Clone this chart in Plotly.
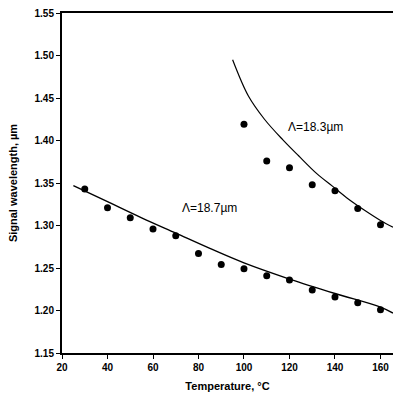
import plotly.graph_objects as go

# Measured data (Λ = 18.7 µm)
temp_a = [30, 40, 50, 60, 70, 80, 90, 100, 110, 120, 130, 140, 150, 160]
wl_a = [1.343, 1.321, 1.309, 1.296, 1.288, 1.267, 1.254, 1.249, 1.241, 1.236, 1.224, 1.216, 1.209, 1.201]

# Measured data (Λ = 18.3 µm)
temp_b = [100, 110, 120, 130, 140, 150, 160]
wl_b = [1.419, 1.376, 1.368, 1.348, 1.341, 1.320, 1.301]

# Theory curves
curve_a_x = [25, 40, 55, 70, 85, 100, 120, 140, 160, 165.5]
curve_a_y = [1.347, 1.328, 1.309, 1.291, 1.273, 1.256, 1.237, 1.220, 1.204, 1.197]
curve_b_x = [95, 102, 109, 117, 124, 132, 139, 146, 153, 160, 165.5]
curve_b_y = [1.495, 1.452, 1.425, 1.401, 1.382, 1.361, 1.346, 1.331, 1.318, 1.306, 1.298]

x_ticks = [20, 40, 60, 80, 100, 120, 140, 160]
y_ticks = [1.15, 1.20, 1.25, 1.30, 1.35, 1.40, 1.45, 1.50, 1.55]

font_fam = "Liberation Sans, Arial, sans-serif"

fig = go.Figure()
fig.add_trace(go.Scatter(x=curve_a_x, y=curve_a_y, mode="lines",
                         line=dict(color="black", width=1.4, shape="spline"), showlegend=False))
fig.add_trace(go.Scatter(x=curve_b_x, y=curve_b_y, mode="lines",
                         line=dict(color="black", width=1.2, shape="spline"), showlegend=False))
fig.add_trace(go.Scatter(x=temp_a, y=wl_a, mode="markers", cliponaxis=False,
                         marker=dict(color="black", size=7), showlegend=False))
fig.add_trace(go.Scatter(x=temp_b, y=wl_b, mode="markers", cliponaxis=False,
                         marker=dict(color="black", size=7), showlegend=False))

fig.add_annotation(x=84.7, y=1.3206, text="Λ=18.7µm", showarrow=False,
                   font=dict(family=font_fam, size=12, color="black"))
fig.add_annotation(x=131.6, y=1.4155, text="Λ=18.3µm", showarrow=False,
                   font=dict(family=font_fam, size=12, color="black"))

fig.update_layout(
    width=393, height=400,
    margin=dict(l=62, r=0, t=13, b=47),
    paper_bgcolor="white", plot_bgcolor="white",
    font=dict(family=font_fam, color="black"),
    xaxis=dict(range=[20, 165.5], tickvals=x_ticks, ticktext=[f"<b>{v}</b>" for v in x_ticks],
               automargin=False,
               showgrid=False, zeroline=False, showline=True, linecolor="black", linewidth=2,
               mirror=True, ticks="outside", ticklen=4, tickcolor="black",
               tickfont=dict(size=10, family=font_fam),
               title=dict(text="<b>Temperature, °C</b>", font=dict(size=11), standoff=10)),
    yaxis=dict(range=[1.15, 1.55], tickvals=y_ticks, ticktext=[f"<b>{v:.2f}</b>" for v in y_ticks],
               automargin=False,
               showgrid=False, zeroline=False, showline=True, linecolor="black", linewidth=2,
               ticks="outside", ticklen=4, tickcolor="black",
               tickfont=dict(size=10, family=font_fam),
               title=dict(text="<b>Signal wavelength, µm</b>", font=dict(size=11), standoff=15)),
)

fig.write_html("out.html", config={"displayModeBar": False},
               post_script="document.body.style.margin='0';document.body.style.overflow='hidden';")
